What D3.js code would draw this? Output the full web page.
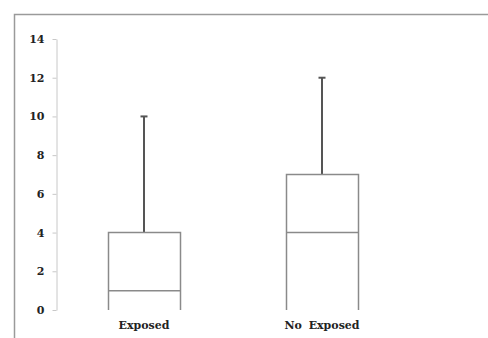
<!DOCTYPE html>
<html><head><meta charset="utf-8">
<script src="https://cdn.jsdelivr.net/npm/d3@7"></script>
<style>body{margin:0;background:#fff}svg{display:block}</style>
</head><body>
<svg id="c" width="488" height="338"></svg>
<script>
const categories = ["Exposed", "No Exposed"];
const q1 = [0, 0];
const median = [1, 4];
const q3 = [4, 7];
const whiskerMax = [10, 12];
const yTicks = [0, 2, 4, 6, 8, 10, 12, 14];

const svg = d3.select("#c");
// frame
svg.append("path").attr("d", "M14.5,338 V14.5 H488").attr("fill", "none")
  .attr("stroke", "#9a9a9a").attr("stroke-width", 1.5);

const y = d3.scaleLinear().domain([0, 14]).range([310, 39]);
const x = d3.scaleBand().domain(categories).range([55, 411]);
const font = "'DejaVu Serif', 'Liberation Serif', serif";

const yAxis = svg.append("g").attr("transform", "translate(56.5,0)")
  .call(d3.axisLeft(y).tickValues(yTicks).tickSize(4).tickSizeOuter(0).tickPadding(8));
yAxis.select(".domain").attr("stroke", "#c8c8c8");
yAxis.selectAll(".tick line").attr("stroke", "#c8c8c8");
yAxis.selectAll("text").attr("font-family", font).attr("font-weight", "bold")
  .attr("font-size", 11).attr("fill", "#222");

const bw = 72;
const data = categories.map((c, i) => ({c, q1: q1[i], med: median[i], q3: q3[i], max: whiskerMax[i]}));
const g = svg.append("g");
data.forEach(d => {
  const cx = x(d.c) + x.bandwidth() / 2;
  const l = Math.round(cx - bw / 2) + 0.5, r = Math.round(cx + bw / 2) + 0.5;
  // whisker
  g.append("line").attr("x1", cx).attr("x2", cx).attr("y1", y(d.q3)).attr("y2", y(d.max))
    .attr("stroke", "#555").attr("stroke-width", 2);
  g.append("line").attr("x1", cx - 3.5).attr("x2", cx + 3.5).attr("y1", y(d.max)).attr("y2", y(d.max))
    .attr("stroke", "#555").attr("stroke-width", 2);
  // box sides and top
  g.append("path")
    .attr("d", `M${l},${y(d.q1)} V${y(d.q3)} H${r} V${y(d.q1)}`)
    .attr("fill", "none").attr("stroke", "#8a8a8a").attr("stroke-width", 1.5);
  // median
  g.append("line").attr("x1", l).attr("x2", r).attr("y1", y(d.med)).attr("y2", y(d.med))
    .attr("stroke", "#8a8a8a").attr("stroke-width", 1.5);
  g.append("text").attr("x", cx).attr("y", 329).attr("text-anchor", "middle")
    .attr("font-family", font).attr("font-weight", "bold").attr("font-size", 11)
    .attr("word-spacing", 3).attr("fill", "#222").text(d.c);
});
</script>
</body></html>
